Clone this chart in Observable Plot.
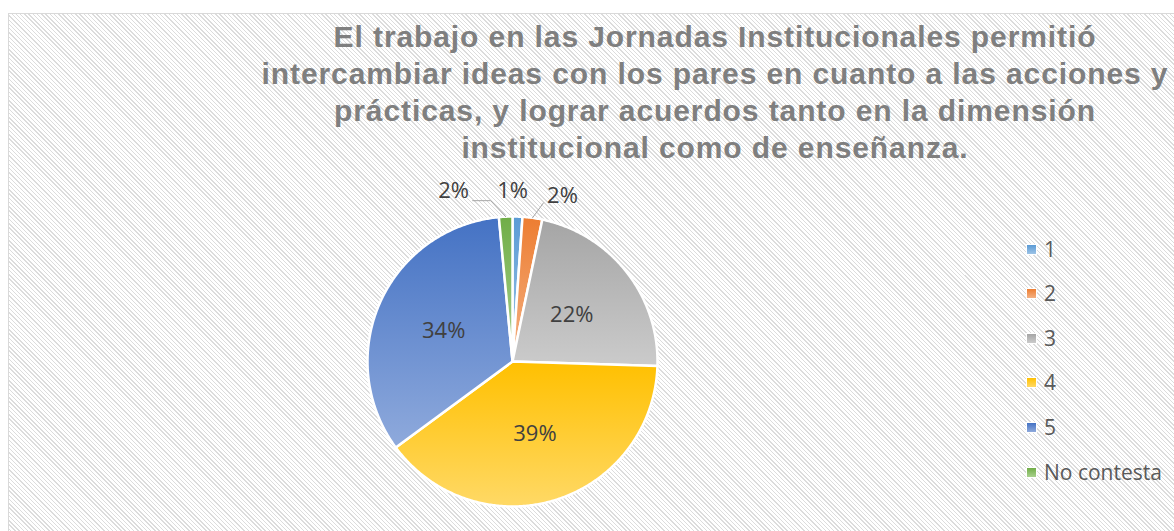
<!DOCTYPE html>
<html><head><meta charset="utf-8">
<script src="https://cdn.jsdelivr.net/npm/d3@7"></script>
<script src="https://cdn.jsdelivr.net/npm/@observablehq/plot@0.6"></script>
<style>
html,body{margin:0;padding:0;width:1174px;height:531px;overflow:hidden;background:#fff;}
#frame{position:absolute;left:8px;top:13px;width:1420px;height:560px;border:1.5px solid #d9d9d9;box-sizing:border-box;
background:repeating-linear-gradient(45deg,#dcdcdc 0px,#dcdcdc 1px,#ffffff 1px,#ffffff 3px);}
#title{position:absolute;left:115px;top:18px;width:1200px;text-align:center;font-family:"Liberation Sans",Arial,sans-serif;font-weight:bold;font-size:30px;letter-spacing:0.9px;line-height:37px;color:#7f7f7f;white-space:nowrap;}
#chart{position:absolute;left:0;top:0;}
#chart svg{background:transparent;}
.leg{position:absolute;left:1026px;height:22px;font-family:"Open Sans",sans-serif;font-size:21px;color:#595959;display:flex;align-items:center;white-space:nowrap;}
.leg span.sw{display:inline-block;width:9px;height:9px;border:1px solid #fff;margin-right:7px;}
</style></head>
<body>
<div id="frame"></div>
<div id="title">El trabajo en las Jornadas Institucionales permitió<br>intercambiar ideas con los pares en cuanto a las acciones y<br>prácticas, y lograr acuerdos tanto en la dimensión<br>institucional como de enseñanza.</div>
<div id="chart"></div>
<div id="legend"></div>
<script>
// ---- data ----
const categorias = ["1", "2", "3", "4", "5", "No contesta"];
const porcentajes = [1.1, 2.2, 22.2, 39.4, 33.6, 1.5];
const coloresBase = ["#5B9BD5", "#ED7D31", "#A5A5A5", "#FFC000", "#4472C4", "#70AD47"];
const coloresClaros = ["#9DC3E6", "#F4B183", "#CBCBCB", "#FFD966", "#8FAADC", "#A9D18E"];

// ---- layout ----
const W = 1174, H = 531, cx = 512, cy = 361, R = 145;
const pie = d3.pie().sort(null).value(d => d)(porcentajes);

const slicePts = [];
pie.forEach((p, i) => {
  const n = Math.max(4, Math.ceil((p.endAngle - p.startAngle) / (Math.PI / 360)));
  slicePts.push({cat: categorias[i], x: 0, y: 0, fill: `url(#grad${i})`});
  for (let k = 0; k <= n; k++) {
    const a = p.startAngle + (p.endAngle - p.startAngle) * k / n;
    slicePts.push({cat: categorias[i], x: Math.sin(a), y: Math.cos(a), fill: `url(#grad${i})`});
  }
  slicePts.push({cat: categorias[i], x: 0, y: 0, fill: `url(#grad${i})`});
});

const mid = p => (p.startAngle + p.endAngle) / 2;
const txt = v => Math.round(v) + "%";

// inside labels (big slices)
const inside = pie.map((p, i) => ({i, p})).filter(d => porcentajes[d.i] >= 5).map(d => ({
  x: 0.52 * Math.sin(mid(d.p)), y: 0.52 * Math.cos(mid(d.p)), t: txt(porcentajes[d.i])
}));

// outside labels (small slices): offsets in px from arc point
const outsideCfg = {0: {dx: -5, dy: -26, leader: null},
                    1: {dx: 30, dy: -22, leader: [[11, -15]]},
                    5: {dx: -52, dy: -26, leader: [[-15, -16], [-33, -16]]}};
const outside = [], leaders = [];
Object.entries(outsideCfg).forEach(([k, c]) => {
  const i = +k, a = mid(pie[i]);
  const ax = Math.sin(a), ay = Math.cos(a);
  outside.push({x: ax + c.dx / R, y: ay - c.dy / R, t: txt(porcentajes[i])});
  if (c.leader) {
    leaders.push({id: i, x: ax, y: ay});
    c.leader.forEach(([lx, ly]) => leaders.push({id: i, x: ax + lx / R, y: ay - ly / R}));
  }
});

const defsMark = () => {
  const defs = d3.create("svg:defs");
  coloresBase.forEach((c, i) => {
    const g = defs.append("linearGradient").attr("id", `grad${i}`)
      .attr("x1", 0).attr("y1", 0).attr("x2", 0).attr("y2", 1);
    g.append("stop").attr("offset", "0%").attr("stop-color", c);
    g.append("stop").attr("offset", "100%").attr("stop-color", coloresClaros[i]);
  });
  return defs.node();
};

const font = "'Open Sans', sans-serif";
const chart = Plot.plot({
  width: W, height: H,
  marginTop: 0, marginRight: 0, marginBottom: 0, marginLeft: 0,
  x: {domain: [-1, 1], range: [cx - R, cx + R], axis: null},
  y: {domain: [-1, 1], range: [cy + R, cy - R], axis: null},
  color: {type: "identity"},
  style: {background: "transparent"},
  marks: [
    defsMark,
    Plot.line(slicePts, {x: "x", y: "y", z: "cat", fill: "fill", stroke: "#ffffff", strokeWidth: 2.5, strokeLinejoin: "round", curve: "linear"}),
    Plot.line(leaders, {x: "x", y: "y", z: "id", stroke: "#a6a6a6", strokeWidth: 1}),
    Plot.text(inside, {x: "x", y: "y", text: "t", fill: "#404040", fontSize: 22, fontFamily: font}),
    Plot.text(outside, {x: "x", y: "y", text: "t", fill: "#404040", fontSize: 22, fontFamily: font})
  ]
});
document.getElementById("chart").appendChild(chart);

// legend
const legTops = [249, 293, 338, 382, 427, 472];
const leg = document.getElementById("legend");
categorias.forEach((c, i) => {
  const d = document.createElement("div");
  d.className = "leg";
  d.style.top = (legTops[i] - 11) + "px";
  d.innerHTML = `<span class="sw" style="background:linear-gradient(${coloresBase[i]},${coloresClaros[i]})"></span>${c}`;
  leg.appendChild(d);
});
</script>
</body></html>
